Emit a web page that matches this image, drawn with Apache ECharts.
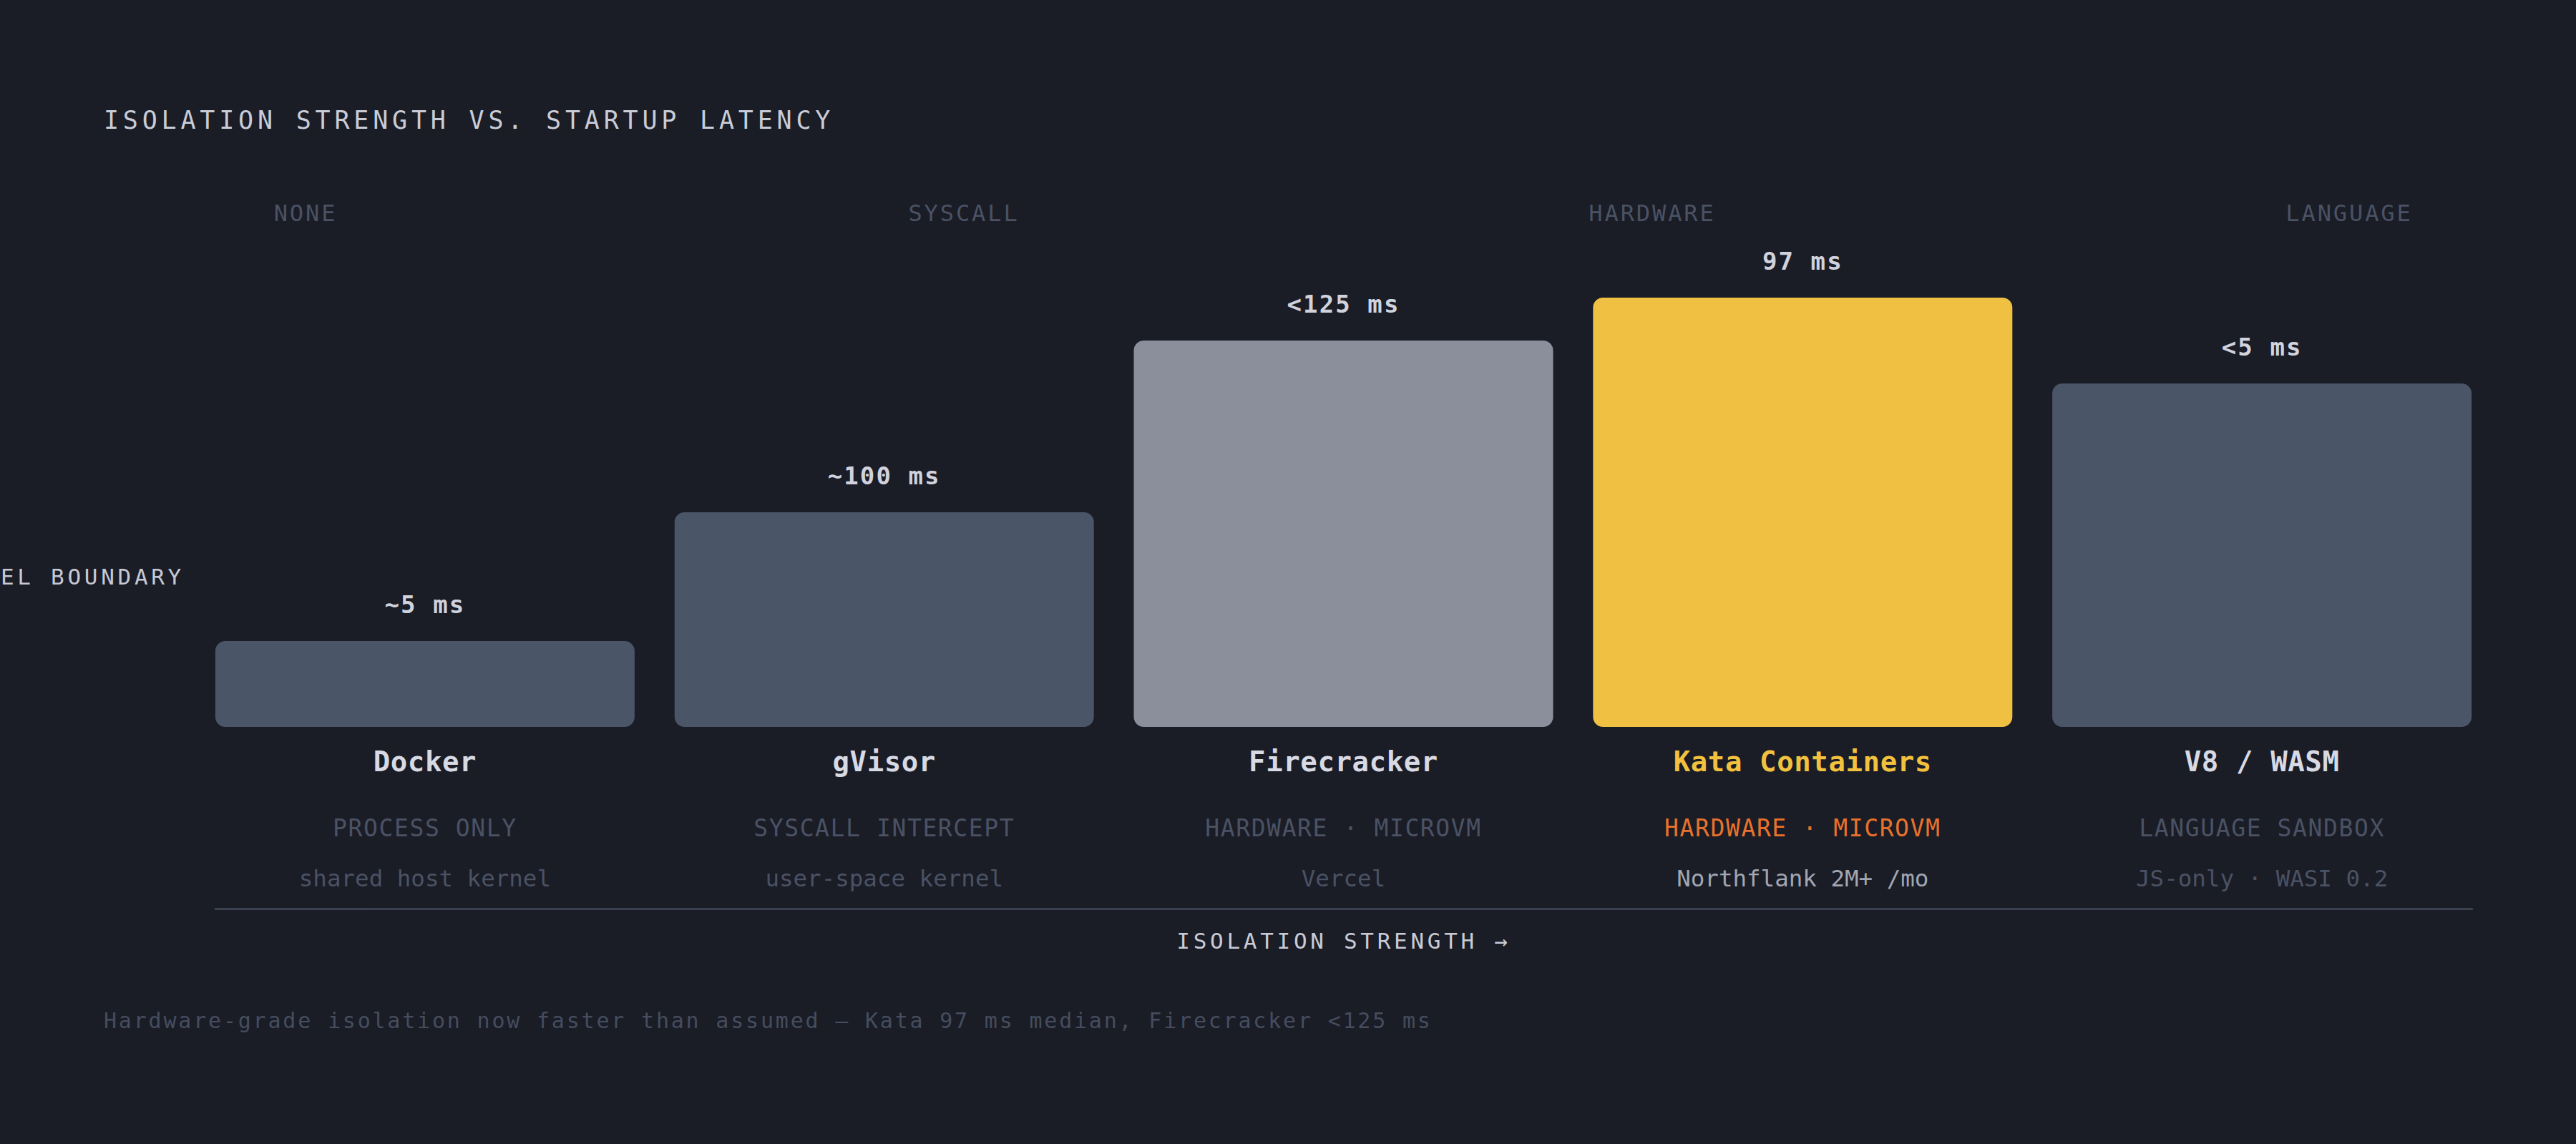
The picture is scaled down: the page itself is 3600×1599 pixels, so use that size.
<!DOCTYPE html>
<html>
<head>
<meta charset="utf-8">
<title>Isolation strength vs. startup latency</title>
<script src="https://cdn.jsdelivr.net/npm/echarts@6/dist/echarts.min.js"></script>
<style>
    html, body { margin: 0; background: #1a1c26; }
    #chart { width: 3600px; height: 1599px; }
    /* zrender has no letter-spacing, so it goes on the svg text by font size */
    #chart text[style*="35px"] { letter-spacing: 5.8px; }
    #chart text[style*="32px"] { letter-spacing: 2.9px; }
    #chart text[style*="31px"] { letter-spacing: 4.7px; }
    #chart text[style*="34px"] { letter-spacing: 2.1px; }
    #chart text[style*="39px"] { letter-spacing: 0.6px; }
    #chart text[style*="33px"] { letter-spacing: 1.6px; }
    #chart text[style*="30px"] { letter-spacing: 2.8px; }
</style>
</head>
<body>
<div id="chart"></div>
<script>
// data
const runtimes = ['Docker', 'gVisor', 'Firecracker', 'Kata Containers', 'V8 / WASM'];
const strength = [20, 50, 90, 100, 80];
const latency = ['~5 ms', '~100 ms', '<125 ms', '97 ms', '<5 ms'];
const tiers = ['PROCESS ONLY', 'SYSCALL INTERCEPT', 'HARDWARE · MICROVM', 'HARDWARE · MICROVM', 'LANGUAGE SANDBOX'];
const notes = ['shared host kernel', 'user-space kernel', 'Vercel', 'Northflank 2M+ /mo', 'JS-only · WASI 0.2'];
const levels = ['NONE', 'SYSCALL', 'HARDWARE', 'LANGUAGE'];
const kernelBoundary = 35;
const highlight = 'Kata Containers';

// styles
const MONO = '"DejaVu Sans Mono", "Liberation Mono", monospace';
const barColors = ['#4a5568', '#4a5568', '#8b8e9b', '#f0c043', '#4a5568'];
const levelX = [427, 1347, 2309, 3283];
const dim = '#4a5264';

const chart = echarts.init(document.getElementById('chart'), null, { renderer: 'svg' });

chart.setOption({
    backgroundColor: '#1a1c26',
    animation: false,
    title: {
        text: 'ISOLATION STRENGTH VS. STARTUP LATENCY',
        left: 145,
        top: 150,
        padding: 0,
        textStyle: { fontFamily: MONO, fontSize: 35, fontWeight: 'normal', color: '#c9ccd7' }
    },
    grid: [
        { left: 273, right: 118, top: 416, height: 600 },
        { left: 301, right: 145, top: 1269, height: 1 }
    ],
    xAxis: [
        {
            gridIndex: 0, type: 'category', position: 'bottom', data: runtimes,
            axisLine: { show: false }, axisTick: { show: false },
            axisLabel: {
                interval: 0, margin: 29, fontFamily: MONO, fontSize: 39, fontWeight: 'bold',
                color: v => v === highlight ? '#f2c23e' : '#d8dae3'
            }
        },
        {
            gridIndex: 0, type: 'category', position: 'bottom', data: runtimes,
            axisLine: { show: false }, axisTick: { show: false },
            axisLabel: {
                interval: 0, margin: 125, fontFamily: MONO, fontSize: 33,
                formatter: (v, i) => tiers[i],
                color: v => v === highlight ? '#e8722c' : dim
            }
        },
        {
            gridIndex: 0, type: 'category', position: 'bottom', data: runtimes,
            axisLine: { show: false }, axisTick: { show: false },
            axisLabel: {
                interval: 0, margin: 195, fontFamily: MONO, fontSize: 32.5,
                formatter: (v, i) => notes[i],
                color: v => v === highlight ? '#a2a6b2' : dim
            }
        },
        {
            gridIndex: 1, type: 'value', position: 'bottom', min: 0, max: 1,
            axisLine: { lineStyle: { color: '#414a5b', width: 2.6 } },
            axisTick: { show: false }, axisLabel: { show: false }, splitLine: { show: false },
            name: 'ISOLATION STRENGTH →',
            nameLocation: 'middle',
            nameGap: 29,
            nameTextStyle: { fontFamily: MONO, fontSize: 31, color: '#c8cbd6' }
        }
    ],
    yAxis: [
        { gridIndex: 0, type: 'value', min: 0, max: 100, show: false },
        { gridIndex: 1, type: 'value', show: false }
    ],
    graphic: levels.map((t, i) => ({
        type: 'text',
        x: levelX[i],
        y: 298,
        silent: true,
        style: { text: t, fill: dim, fontFamily: MONO, fontSize: 32, align: 'center', verticalAlign: 'middle' }
    })).concat([{
        type: 'text',
        x: 145,
        y: 1426,
        silent: true,
        style: {
            text: 'Hardware-grade isolation now faster than assumed — Kata 97 ms median, Firecracker <125 ms',
            fill: '#454d5e', fontFamily: MONO, fontSize: 30, align: 'left', verticalAlign: 'middle'
        }
    }]),
    series: [{
        type: 'bar',
        xAxisIndex: 0,
        yAxisIndex: 0,
        barWidth: 586,
        data: strength.map((v, i) => ({ value: v, itemStyle: { color: barColors[i] } })),
        itemStyle: { borderRadius: 14 },
        label: {
            show: true,
            position: 'top',
            distance: 34,
            formatter: p => latency[p.dataIndex],
            fontFamily: MONO, fontSize: 34, fontWeight: 'bold', color: '#d0d3de'
        },
        markLine: {
            silent: true,
            symbol: 'none',
            lineStyle: { color: 'transparent', width: 0 },
            label: {
                show: true, position: 'start', distance: 15, formatter: 'KERNEL BOUNDARY',
                fontFamily: MONO, fontSize: 31, color: '#c6c9d4'
            },
            data: [{ yAxis: kernelBoundary }]
        }
    }]
});

window.addEventListener('resize', () => chart.resize());
</script>
</body>
</html>
